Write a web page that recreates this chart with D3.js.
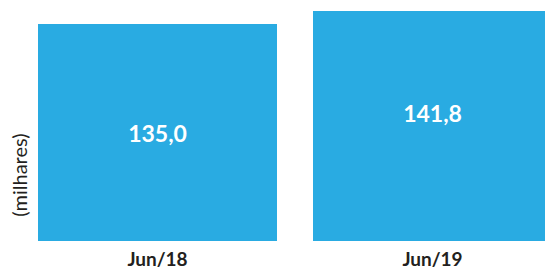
<!DOCTYPE html>
<html><head><meta charset="utf-8">
<script src="https://cdn.jsdelivr.net/npm/d3@7"></script>
<style>html,body{margin:0;padding:0;background:#fff;}svg{display:block;}</style>
</head><body>
<svg id="chart" width="545" height="271"></svg>
<script>
const categories = ["Jun/18", "Jun/19"];
const values = [135.0, 141.8];
const valueLabels = ["135,0", "141,8"];
const yAxisTitle = "(milhares)";

const svg = d3.select("#chart");
const font = "Lato, 'Open Sans', sans-serif";
const barColor = "#29ABE2";

const x = d3.scaleBand().domain(categories).range([38, 552]).paddingInner(36/275).paddingOuter(0);
const y = d3.scaleLinear().domain([21.5, 141.8]).range([241, 11]);

svg.selectAll("rect.bar").data(values).join("rect")
  .attr("class","bar")
  .attr("x",(d,i)=>x(categories[i]))
  .attr("y",d=>y(d))
  .attr("width",x.bandwidth())
  .attr("height",d=>y.range()[0]-y(d))
  .attr("fill",barColor);

const labelDy = [118, 111];
svg.selectAll("text.val").data(values).join("text")
  .attr("class","val")
  .attr("x",(d,i)=>x(categories[i])+x.bandwidth()/2)
  .attr("y",(d,i)=>y(d)+labelDy[i])
  .attr("text-anchor","middle")
  .attr("font-family",font).attr("font-weight","bold").attr("font-size",23)
  .attr("fill","#fff")
  .text((d,i)=>valueLabels[i]);

const xAxis = d3.axisBottom(x).tickSize(0).tickPadding(0);
const gx = svg.append("g").attr("transform","translate(0,252)").call(xAxis);
gx.select(".domain").remove();
gx.selectAll("text")
  .attr("dy","0.71em")
  .attr("font-family",font).attr("font-weight","bold").attr("font-size",19)
  .attr("fill","#231f20");

svg.append("text")
  .attr("transform","translate(27,175) rotate(-90)")
  .attr("text-anchor","middle")
  .attr("font-family",font).attr("font-size",20)
  .attr("fill","#231f20")
  .text(yAxisTitle);
</script>
</body></html>
